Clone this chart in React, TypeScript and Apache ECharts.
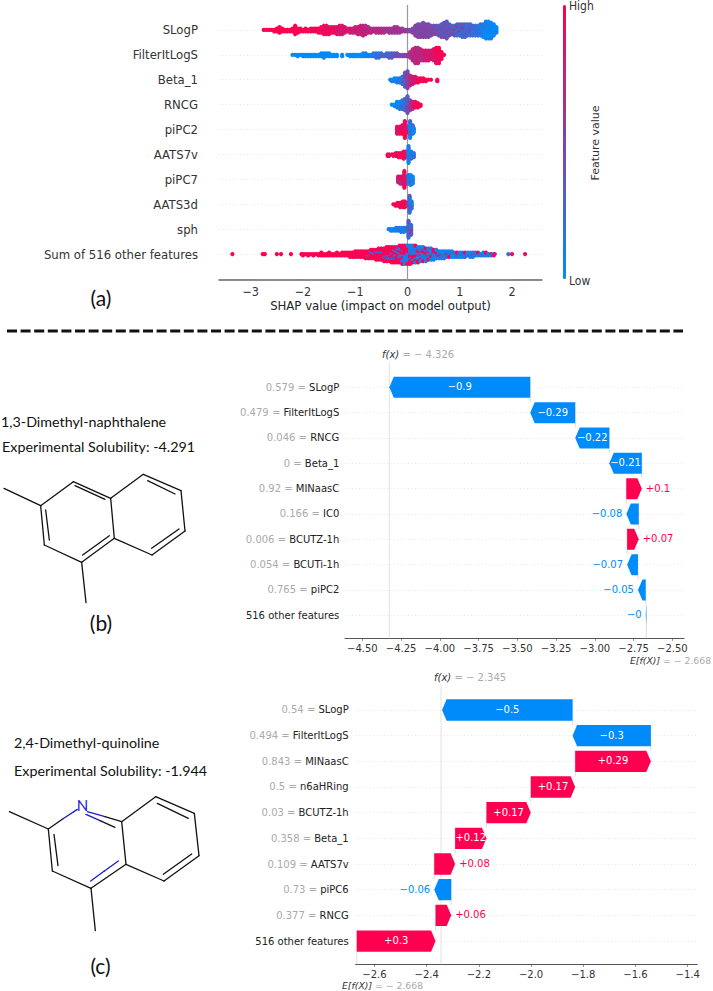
import React, { useEffect, useRef } from "react";
import * as echarts from "echarts";

const BLUE = "#008bfb";
const PINK = "#ff0051";
const DEJAVU = "'DejaVu Sans', sans-serif";
const CONDENSED = "'DejaVu Sans Condensed', 'DejaVu Sans', sans-serif";
const LEFT_FONT = "Lato, 'Open Sans', sans-serif";

// ---------- Panel (a) : beeswarm, each entry = [SHAP value, one digit per sample = feature value 0..9]
const swarmFeatures = ["SLogP", "FilterItLogS", "Beta_1", "RNCG", "piPC2", "AATS7v", "piPC7", "AATS3d", "sph", "Sum of 516 other features"];
const swarmTicks = [-3, -2, -1, 0, 1, 2];

const sLogP: [number, string][] = [
  [-2.75,"9"],[-2.7,"9"],[-2.65,"9"],[-2.6,"9"],[-2.55,"99"],[-2.5,"999"],[-2.45,"99999"],[-2.4,"999"],[-2.35,"99"],[-2.3,"99"],
  [-2.25,"99"],[-2.2,"999"],[-2.15,"9999999"],[-2.1,"9999"],[-2.05,"999"],[-2,"99"],[-1.95,"999"],[-1.9,"99"],[-1.85,"998"],[-1.8,"989"],
  [-1.75,"989"],[-1.7,"9899"],[-1.65,"98989"],[-1.6,"9889898"],[-1.55,"8989898"],[-1.5,"898988"],[-1.45,"88988"],[-1.4,"88898"],[-1.35,"888788"],[-1.3,"8878878"],
  [-1.25,"8787887"],[-1.2,"87878"],[-1.15,"787"],[-1.1,"8787"],[-1.05,"7877"],[-1,"77877"],[-.95,"778777"],[-.9,"7767777"],[-.85,"77677677"],[-.8,"7767776"],
  [-.75,"76776"],[-.7,"6767"],[-.65,"676"],[-.6,"6766"],[-.55,"6676"],[-.5,"6667"],[-.45,"6566"],[-.4,"656"],[-.35,"6566"],[-.3,"6556"],
  [-.25,"56656"],[-.2,"65566"],[-.15,"5665"],[-.1,"565"],[-.05,"56"],[0,"55"],[.05,"54"],[.1,"5445"],[.15,"54554455"],[.2,"4545545445"],
  [.25,"5454455445"],[.3,"45544554454"],[.35,"4544544554"],[.4,"4455445445"],[.45,"44544544"],[.5,"4454454"],[.55,"4344344"],[.6,"34434434"],[.65,"4334434434"],[.7,"34433443344"],
  [.75,"3344334433443"],[.8,"343343343"],[.85,"3343343"],[.9,"33633433"],[.95,"323323623"],[1,"332632323"],[1.05,"2323623232"],[1.1,"2322322632"],[1.15,"232232232"],[1.2,"223522322"],
  [1.25,"21322132"],[1.3,"21221221"],[1.35,"12212212"],[1.4,"112112112"],[1.45,"1011011010"],[1.5,"1010101010101"],[1.55,"0101001010100"],[1.6,"001001001001"],[1.65,"000100100"],[1.7,"00010"],
];
const filterItLogS: [number, string][] = [
  [-2.2,"0"],[-2.15,"0"],[-2.1,"00"],[-2.05,"0"],[-2,"00"],[-1.95,"00"],[-1.9,"00"],[-1.85,"00"],[-1.8,"00"],[-1.75,"00"],[-1.7,"00"],[-1.65,"000"],[-1.6,"0000"],[-1.55,"000"],[-1.5,"000"],[-1.45,"00"],[-1.4,"00"],[-1.35,"00"],
  [-1.25,"00"],[-1.15,"0"],[-1.1,"00"],[-1.05,"00"],[-1,"00"],[-.95,"00"],[-.9,"00"],[-.85,"000"],[-.8,"001"],[-.75,"01"],[-.7,"11"],[-.65,"121"],[-.6,"2122"],[-.55,"2312"],[-.5,"232"],[-.45,"23"],[-.4,"332"],[-.35,"3323"],[-.3,"3433"],[-.25,"343"],[-.2,"344"],[-.15,"34"],[-.1,"44"],[-.05,"45"],[0,"55"],
  [.05,"56656"],[.1,"676767676"],[.15,"767676767676"],[.2,"676767676767"],[.25,"676776767"],[.3,"77677677"],[.35,"77877787"],[.4,"78778778"],[.45,"7878787"],[.5,"878878878"],[.55,"898898989898"],[.6,"989899989899"],[.65,"999899"],[.7,"9"],
];
const beta1: [number, string][] = [
  [-.33,"1"],[-.3,"01"],[-.25,"010"],[-.2,"0101"],[-.15,"1121"],[-.1,"212312"],[-.05,"34235243523"],[0,"4545645645654"],[.05,"65767567"],[.1,"787678"],[.15,"87888"],[.2,"8989"],[.25,"899"],[.3,"989"],[.35,"99"],[.4,"9"],[.45,"9"],[.57,"99"],
];
const rncg: [number, string][] = [
  [-.3,"0"],[-.25,"00"],[-.2,"01010"],[-.15,"010101"],[-.1,"1212121"],[-.05,"212322123"],[0,"3435343534343"],[.05,"46545645"],[.1,"767976"],[.15,"89899"],[.2,"9899"],[.25,"99"],
];
const piPC2: [number, string][] = [
  [-.2,"878787"],[-.15,"989789"],[-.1,"8989898"],[-.05,"9889898989988"],[0,"98786"],[.05,"1212021201202"],[.1,"2121012"],[.12,"1010"],
];
const aats7v: [number, string][] = [
  [-.38,"99"],[-.35,"98"],[-.3,"9"],[-.27,"98"],[-.22,"899"],[-.17,"9889"],[-.12,"9899"],[-.07,"989898"],[-.03,"78787"],[.02,"1212012101201"],[.07,"212012"],[.12,"1212"],
];
const piPC7: [number, string][] = [
  [-.18,"76767"],[-.14,"878787"],[-.1,"878787"],[-.06,"9878987898798"],[-.02,"878978"],[.02,"2121212"],[.06,"12021201"],[.1,"010101"],
];
const aats3d: [number, string][] = [
  [-.27,"9"],[-.23,"99"],[-.19,"989"],[-.14,"9899"],[-.09,"98989"],[-.05,"89898"],[0,"767"],[.04,"2312341232123"],[.08,"121212"],
];
const sph: [number, string][] = [
  [-.36,"0"],[-.32,"01"],[-.27,"11"],[-.22,"101"],[-.17,"012"],[-.12,"1101"],[-.07,"1021"],[-.03,"011"],[.02,"3423423423423"],[.07,"34243423"],
];
const sumOther: [number, string][] = [
  [-3.35,"9"],[-2.77,"9"],[-2.73,"9"],[-2.5,"9"],[-2.42,"9"],[-2.23,"9"],[-2.03,"9"],[-2,"99"],[-1.95,"9"],[-1.9,"99"],[-1.85,"9"],[-1.8,"99"],[-1.75,"9"],[-1.7,"99"],[-1.65,"999"],[-1.6,"99"],[-1.55,"99"],[-1.5,"999"],[-1.45,"99"],[-1.4,"99"],[-1.35,"999"],[-1.3,"99"],[-1.25,"999"],[-1.2,"999"],[-1.15,"999"],[-1.1,"9899"],[-1.05,"9999"],[-1,"99899"],
  [-.95,"99989"],[-.9,"99899"],[-.85,"98999"],[-.8,"999899"],[-.75,"989299"],[-.7,"9989199"],[-.65,"9909899"],[-.6,"98992989"],[-.55,"999819989"],[-.5,"989909999"],[-.45,"9989919989"],[-.4,"99829991899"],[-.35,"98919980999"],[-.3,"990989919899"],[-.25,"989199029989"],[-.2,"919809990989"],[-.15,"9902919819099"],[-.1,"90919829909189"],[-.05,"19809190929081"],[0,"91029180919029"],[.05,"09192810290918"],
  [.1,"9019082910291"],[.15,"0919281029019"],[.2,"190291802919"],[.25,"09128019201"],[.3,"91029180291"],[.35,"0192810291"],[.4,"190280191"],[.45,"021908102"],[.5,"90128091"],[.55,"0192801"],[.6,"102910"],[.65,"091201"],[.7,"910201"],[.75,"01920"],[.8,"10291"],[.85,"01201"],[.9,"0120"],[.95,"1092"],[1,"0210"],[1.05,"1201"],[1.1,"0192"],[1.15,"021"],[1.2,"1201"],[1.25,"0821"],[1.3,"012"],[1.35,"108"],[1.4,"01"],[1.45,"120"],[1.5,"019"],[1.55,"01"],[1.6,"91"],[1.65,"09"],[1.67,"7"],[1.93,"2"],[2,"8"],[2.25,"8"],
];
const swarmRows = [sLogP, filterItLogS, beta1, rncg, piPC2, aats7v, piPC7, aats3d, sph, sumOther];

// ---------- Panel (b) : waterfall, listed top to bottom
const bFeatureValues = ["0.579", "0.479", "0.046", "0", "0.92", "0.166", "0.006", "0.054", "0.765", ""];
const bFeatures = ["SLogP", "FilterItLogS", "RNCG", "Beta_1", "MINaasC", "IC0", "BCUTZ-1h", "BCUTi-1h", "piPC2", "516 other features"];
const bShap = [-0.909, -0.29, -0.22, -0.21, 0.1, -0.08, 0.075, -0.07, -0.05, -0.004];
const bShapLabels = ["−0.9", "−0.29", "−0.22", "−0.21", "+0.1", "−0.08", "+0.07", "−0.07", "−0.05", "−0"];
const bTicks = [-4.5, -4.25, -4, -3.75, -3.5, -3.25, -3, -2.75, -2.5];
const bBase = -2.668;
const bOutput = -4.326;

// ---------- Panel (c) : waterfall, listed top to bottom
const cFeatureValues = ["0.54", "0.494", "0.843", "0.5", "0.03", "0.358", "0.109", "0.73", "0.377", ""];
const cFeatures = ["SLogP", "FilterItLogS", "MINaasC", "n6aHRing", "BCUTZ-1h", "Beta_1", "AATS7v", "piPC6", "RNCG", "516 other features"];
const cShap = [-0.5, -0.3, 0.29, 0.17, 0.17, 0.12, 0.08, -0.065, 0.06, 0.302];
const cShapLabels = ["−0.5", "−0.3", "+0.29", "+0.17", "+0.17", "+0.12", "+0.08", "−0.06", "+0.06", "+0.3"];
const cTicks = [-2.6, -2.4, -2.2, -2, -1.8, -1.6, -1.4];
const cBase = -2.668;
const cOutput = -2.345;

// ---------- molecule drawings, in zoomed drawing units (x1,y1,x2,y2,colour)
type Bond = [number, number, number, number, string?];
const naphthalene: Bond[] = [
  [12,295,122,347],[122,347,220,275],[220,275,332,325],[332,325,343,445],[343,445,245,517],[245,517,133,465],[133,465,122,347],
  [332,325,430,253],[430,253,543,302],[543,302,555,423],[555,423,456,495],[456,495,343,445],[245,517,258,638],
  [137,360,148,450],[225,287,315,328],[248,495,328,437],[443,272,525,312],[455,475,537,417],
];
const quinoline: Bond[] = [
  [28,275,145,327],[145,327,188,297],[188,297,232,268,"#1a1ad0"],[262,275,315,290,"#1a1ad0"],[315,290,365,305],
  [145,327,157,453],[157,453,273,505],[273,505,378,433],[378,433,365,305],
  [365,305,467,230],[467,230,583,280],[583,280,597,407],[597,407,492,483],[492,483,378,433],[273,505,286,632],
  [258,283,300,302,"#1a1ad0"],[300,302,345,322],[162,343,174,437],[272,483,313,453,"#1a1ad0"],[313,453,355,423,"#1a1ad0"],[472,250,565,295],[490,463,575,402],
];

const minus = (s: string) => s.replace("-", "−");

function swarmData() {
  const step = 1.4 / 24.9; // vertical spacing of stacked dots, in row units
  const out: number[][] = [];
  swarmRows.forEach((row, r) => {
    row.forEach(([shap, digits]) => {
      for (let k = 0; k < digits.length; k++) {
        const off = (k % 2 ? 1 : -1) * Math.ceil(k / 2) * step;
        out.push([shap, r + off, Number(digits[k]) / 9]);
      }
    });
  });
  return out;
}

// turns top-to-bottom shap values into [row, start, end], stacking upward from the base value
function waterfallData(shap: number[], base: number) {
  const out: number[][] = [];
  let cur = base;
  for (let i = shap.length - 1; i >= 0; i--) {
    out.unshift([i, cur, cur + shap[i]]);
    cur += shap[i];
  }
  return out;
}

function waterfallRender(labels: string[]) {
  return (params: any, api: any) => {
    const row = api.value(0);
    const start = api.coord([api.value(1), row]);
    const end = api.coord([api.value(2), row]);
    const next = api.coord([api.value(1), row + 1]);
    const unit = next[1] - start[1];
    const half = unit * 0.415;
    const y = start[1];
    const x0 = start[0];
    const x1 = end[0];
    const dir = x1 >= x0 ? 1 : -1;
    const w = Math.abs(x1 - x0);
    const head = Math.min(4.5, w);
    const color = dir > 0 ? PINK : BLUE;
    const inside = w > 29;
    const labelX = inside ? (x0 + x1) / 2 : x1 + dir * 4;
    const coordSys = params.coordSys;
    const axisY = coordSys.y + coordSys.height;
    return {
      type: "group",
      children: [
        {
          type: "line",
          shape: { x1: x0, y1: y - half, x2: x0, y2: row === 9 ? axisY : y + unit - half },
          style: { stroke: "#cfcfcf", lineWidth: 0.7 },
        },
        {
          type: "polygon",
          shape: {
            points: [
              [x0, y - half], [x1 - dir * head, y - half], [x1, y],
              [x1 - dir * head, y + half], [x0, y + half],
            ],
          },
          style: { fill: color },
        },
        {
          type: "text",
          style: {
            text: labels[row], x: labelX, y: y - 0.5,
            align: inside ? "center" : dir > 0 ? "left" : "right",
            verticalAlign: "middle",
            fontFamily: DEJAVU, fontSize: 10,
            fill: inside ? "#fff" : color,
          },
        },
      ],
    };
  };
}

const refLineRender = (color: string, width: number) => (params: any, api: any) => {
  const c = params.coordSys;
  const x = api.coord([api.value(0), 0])[0];
  return {
    type: "line",
    shape: { x1: x, y1: c.y, x2: x, y2: c.y + c.height },
    style: { stroke: color, lineWidth: width },
  };
};

const bondsGraphic = (bonds: Bond[], oy: number) =>
  bonds.map((b) => ({
    type: "line",
    shape: { x1: b[0] / 3, y1: b[1] / 3 + oy, x2: b[2] / 3, y2: b[3] / 3 + oy },
    style: { stroke: b[4] || "#111", lineWidth: 1.3, lineCap: "round" },
  }));

const leftText = (text: string, x: number, y: number, size = 14.3, align = "left") => ({
  type: "text",
  x, y,
  style: { text, fontFamily: LEFT_FONT, fontSize: size, fill: "#111", align, verticalAlign: "middle" },
});

const annot = (prefix: string, rest: string, x: number, y: number, size = 10) => ({
  type: "text",
  x, y,
  style: {
    text: `{a|${prefix}}{b|${rest}}`,
    verticalAlign: "middle",
    rich: {
      a: { fontFamily: DEJAVU, fontSize: size, fontStyle: "italic", fill: "#333" },
      b: { fontFamily: DEJAVU, fontSize: size, fill: "#aaa" },
    },
  },
});

function xAxisCommon(gridIndex: number, min: number, max: number, ticks: number[], digits: number) {
  return {
    type: "value", gridIndex, min, max,
    axisLine: { show: true, onZero: false, lineStyle: { color: "#555", width: 1.1 } },
    axisTick: { show: true, length: 2.5, customValues: ticks, lineStyle: { color: "#555", width: 0.7 } },
    axisLabel: {
      show: true, customValues: ticks, margin: 5,
      fontFamily: DEJAVU, fontSize: 10, color: "#333",
      formatter: (v: number) => minus(v.toFixed(digits)),
    },
    splitLine: { show: false },
  };
}

function yAxisCommon(gridIndex: number, max: number, formatter: (v: number) => string, extra: any) {
  return {
    type: "value", gridIndex, min: -1, max, interval: 1, inverse: true,
    axisLine: { show: false },
    axisTick: { show: false },
    axisLabel: { show: true, formatter, ...extra },
    splitLine: {
      show: true, showMinLine: false, showMaxLine: false,
      lineStyle: { type: [1, 2.5], color: "#d4d4d4", width: 0.6 },
    },
  };
}

const rowLabel = (values: string[], names: string[]) => (v: number) => {
  if (!Number.isInteger(v) || v < 0 || v > 9) return "";
  return values[v] ? `{v|${values[v]} = }{n|${names[v]}}` : `{n|${names[v]}}`;
};

const rowRich = {
  v: { fontFamily: DEJAVU, fontSize: 10, color: "#aaa" },
  n: { fontFamily: DEJAVU, fontSize: 10, color: "#222" },
};

export default function App() {
  const ref = useRef<HTMLDivElement>(null);
  useEffect(() => {
    const chart = echarts.init(ref.current!, undefined, { renderer: "svg" });
    chart.setOption({
      animation: false,
      backgroundColor: "#fff",
      grid: [
        { left: 219, top: 5, width: 323, height: 275 },
        { left: 345, top: 362, width: 339, height: 276.3 },
        { left: 355.7, top: 684.3, width: 341.6, height: 280 },
      ],
      xAxis: [
        {
          ...xAxisCommon(0, -3.607, 2.574, swarmTicks, 0),
          axisLine: { show: true, onZero: false, lineStyle: { color: "#666", width: 1.5 } },
          axisTick: { show: false },
          name: "SHAP value (impact on model output)",
          nameLocation: "middle",
          nameGap: 18,
          nameTextStyle: { fontFamily: CONDENSED, fontSize: 13, color: "#222" },
          axisLabel: {
            show: true, customValues: swarmTicks, margin: 5,
            fontFamily: CONDENSED, fontSize: 12.5, color: "#333",
            formatter: (v: number) => minus(String(v)),
          },
        },
        xAxisCommon(1, -4.612, -2.425, bTicks, 2),
        xAxisCommon(2, -2.672, -1.363, cTicks, 1),
      ],
      yAxis: [
        yAxisCommon(0, 10.04, (v) => (Number.isInteger(v) && v >= 0 && v <= 9 ? swarmFeatures[v] : ""), {
          margin: 21, fontFamily: CONDENSED, fontSize: 13, color: "#333",
        }),
        yAxisCommon(1, 9.908, rowLabel(bFeatureValues, bFeatures), { margin: 5.7, rich: rowRich }),
        yAxisCommon(2, 9.906, rowLabel(cFeatureValues, cFeatures), { margin: 7, rich: rowRich }),
      ],
      visualMap: [
        {
          type: "continuous",
          seriesIndex: 1,
          dimension: 2,
          min: 0,
          max: 1,
          left: 563,
          top: 5,
          itemWidth: 3,
          itemHeight: 274,
          padding: 0,
          calculable: false,
          hoverLink: false,
          showLabel: false,
          text: null,
          inRange: { color: [BLUE, PINK] },
        },
      ],
      series: [
        {
          type: "custom", xAxisIndex: 0, yAxisIndex: 0, z: 1, silent: true,
          renderItem: refLineRender("#999", 1.2), data: [[0]], encode: { x: 0 },
        },
        {
          type: "scatter", xAxisIndex: 0, yAxisIndex: 0, z: 2, silent: true,
          symbol: "circle", symbolSize: 4.2, data: swarmData(), large: false,
          itemStyle: { opacity: 1 },
        },
        {
          type: "custom", xAxisIndex: 1, yAxisIndex: 1, z: 1, silent: true,
          renderItem: refLineRender("#e2e2e2", 1), data: [[bOutput]], encode: { x: 0 },
        },
        {
          type: "custom", xAxisIndex: 1, yAxisIndex: 1, z: 2, silent: true, clip: false,
          renderItem: waterfallRender(bShapLabels), data: waterfallData(bShap, bBase),
          encode: { x: [1, 2], y: 0 },
        },
        {
          type: "custom", xAxisIndex: 2, yAxisIndex: 2, z: 1, silent: true,
          renderItem: refLineRender("#e2e2e2", 1), data: [[cOutput]], encode: { x: 0 },
        },
        {
          type: "custom", xAxisIndex: 2, yAxisIndex: 2, z: 2, silent: true, clip: false,
          renderItem: waterfallRender(cShapLabels), data: waterfallData(cShap, cBase),
          encode: { x: [1, 2], y: 0 },
        },
      ],
      graphic: {
        elements: [
          { type: "text", x: 569, y: 6, style: { text: "High", fontFamily: CONDENSED, fontSize: 12, fill: "#333", verticalAlign: "middle" } },
          { type: "text", x: 569, y: 281, style: { text: "Low", fontFamily: CONDENSED, fontSize: 12, fill: "#333", verticalAlign: "middle" } },
          {
            type: "text", x: 595, y: 143, rotation: Math.PI / 2,
            style: { text: "Feature value", fontFamily: DEJAVU, fontSize: 11, fill: "#333", align: "center", verticalAlign: "middle" },
          },
          leftText("(a)", 101, 297, 21, "center"),
          {
            type: "line",
            shape: { x1: 7, y1: 331, x2: 683, y2: 331 },
            style: { stroke: "#111", lineWidth: 3, lineDash: [10, 3.6] },
          },
          leftText("1,3-Dimethyl-naphthalene", 1, 421.5),
          leftText("Experimental Solubility: -4.291", 2, 446.5),
          leftText("(b)", 101, 622.5, 21, "center"),
          ...bondsGraphic(naphthalene, 390),
          leftText("2,4-Dimethyl-quinoline", 14, 742.5),
          leftText("Experimental Solubility: -1.944", 14, 770),
          leftText("(c)", 100.5, 965, 21, "center"),
          ...bondsGraphic(quinoline, 720),
          {
            type: "text", x: 82.5, y: 804.5,
            style: { text: "N", fontFamily: LEFT_FONT, fontSize: 15, fill: "#1a1ad0", align: "center", verticalAlign: "middle" },
          },
          annot("f(x)", " = − 4.326", 382, 354.5),
          annot("E[f(X)]", " = − 2.668", 630, 660, 9.3),
          annot("f(x)", " = − 2.345", 434, 677),
          annot("E[f(X)]", " = − 2.668", 342, 985, 9.3),
        ],
      },
    });
    return () => chart.dispose();
  }, []);
  return <div ref={ref} style={{ position: "absolute", left: 0, top: 0, width: 713, height: 991 }} />;
}
